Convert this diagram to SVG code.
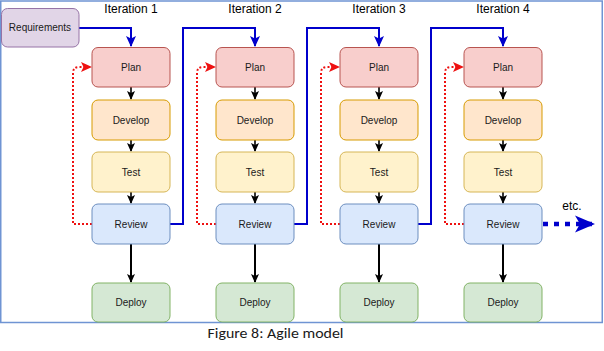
<svg xmlns="http://www.w3.org/2000/svg" width="604" height="351" viewBox="0 0 604 351">
  <style>
    .box { stroke-width: 1; }
    .plan { fill: #f8cecc; stroke: #b85450; }
    .dev { fill: #ffe6cc; stroke: #d79b00; }
    .test { fill: #fff2cc; stroke: #d6b656; }
    .rev { fill: #dae8fc; stroke: #6c8ebf; }
    .dep { fill: #d5e8d4; stroke: #82b366; }
    .req { fill: #e1d5e7; stroke: #9673a6; }
    .lbl { font-family: "Liberation Sans", Arial, sans-serif; font-size: 10px; fill: #1a1a1a; text-anchor: middle; }
    .iter { font-family: "Liberation Sans", Arial, sans-serif; font-size: 12px; fill: #000; text-anchor: middle; }
    .flow { fill: none; stroke: #000; stroke-width: 1.6; }
    .flow2 { fill: none; stroke: #000; stroke-width: 2; }
    .blue { fill: none; stroke: #0000cc; stroke-width: 2; }
    .loop { fill: none; stroke: #ee1111; stroke-width: 2; stroke-dasharray: 2 2; }
  </style>
  <defs>
    <marker id="ahBlack" markerWidth="10" markerHeight="10" refX="8" refY="5" orient="auto" markerUnits="userSpaceOnUse">
      <path d="M0,1 L9,5 L0,9 L2,5 Z" fill="#000"/>
    </marker>
    <marker id="ahBlue" markerWidth="12" markerHeight="12" refX="10" refY="6" orient="auto" markerUnits="userSpaceOnUse">
      <path d="M0,1 L11,6 L0,11 L2.5,6 Z" fill="#0000cc"/>
    </marker>
    <marker id="ahRed" markerWidth="12" markerHeight="12" refX="10" refY="6" orient="auto" markerUnits="userSpaceOnUse">
      <path d="M0,1 L11,6 L0,11 L2.5,6 Z" fill="#ee1111"/>
    </marker>
    <marker id="ahEtc" markerWidth="22" markerHeight="20" refX="20" refY="10" orient="auto" markerUnits="userSpaceOnUse">
      <path d="M0,1.5 L20,10 L0,18.5 L5,10 Z" fill="#0000cc"/>
    </marker>
  </defs>

  <!-- outer frame -->
  <rect x="0.75" y="1" width="601.5" height="321.5" fill="#fff" stroke="#6f94d3" stroke-width="1.5"/>

  <!-- iteration headings -->
  <text class="iter" x="131" y="13">Iteration 1</text>
  <text class="iter" x="255" y="13">Iteration 2</text>
  <text class="iter" x="379" y="13">Iteration 3</text>
  <text class="iter" x="503" y="13">Iteration 4</text>

  <g id="connectors">
    <!-- requirements into first plan -->
    <path class="blue" d="M79,28 H131 V46" marker-end="url(#ahBlue)"/>
    <!-- review to next plan -->
    <path class="blue" d="M170,224 H183 V28 H255 V46" marker-end="url(#ahBlue)"/>
    <path class="blue" d="M294,224 H307 V28 H379 V46" marker-end="url(#ahBlue)"/>
    <path class="blue" d="M418,224 H431 V28 H503 V46" marker-end="url(#ahBlue)"/>
    <!-- continuation -->
    <path d="M543,224 H595" fill="none" stroke="#0000cc" stroke-width="4.5" stroke-dasharray="5 6" marker-end="url(#ahEtc)"/>

    <!-- review feedback loops -->
    <path class="loop" d="M92,224 H73 V73 Q73,67 79,67 H91" marker-end="url(#ahRed)"/>
    <path class="loop" d="M216,224 H197 V73 Q197,67 203,67 H215" marker-end="url(#ahRed)"/>
    <path class="loop" d="M340,224 H321 V73 Q321,67 327,67 H339" marker-end="url(#ahRed)"/>
    <path class="loop" d="M464,224 H445 V73 Q445,67 451,67 H463" marker-end="url(#ahRed)"/>

    <!-- stage flow -->
    <path class="flow" d="M131,87 V99" marker-end="url(#ahBlack)"/>
    <path class="flow" d="M131,140 V151" marker-end="url(#ahBlack)"/>
    <path class="flow" d="M131,192 V203" marker-end="url(#ahBlack)"/>
    <path class="flow2" d="M131,244 V282" marker-end="url(#ahBlack)"/>
    <path class="flow" d="M255,87 V99" marker-end="url(#ahBlack)"/>
    <path class="flow" d="M255,140 V151" marker-end="url(#ahBlack)"/>
    <path class="flow" d="M255,192 V203" marker-end="url(#ahBlack)"/>
    <path class="flow2" d="M255,244 V282" marker-end="url(#ahBlack)"/>
    <path class="flow" d="M379,87 V99" marker-end="url(#ahBlack)"/>
    <path class="flow" d="M379,140 V151" marker-end="url(#ahBlack)"/>
    <path class="flow" d="M379,192 V203" marker-end="url(#ahBlack)"/>
    <path class="flow2" d="M379,244 V282" marker-end="url(#ahBlack)"/>
    <path class="flow" d="M503,87 V99" marker-end="url(#ahBlack)"/>
    <path class="flow" d="M503,140 V151" marker-end="url(#ahBlack)"/>
    <path class="flow" d="M503,192 V203" marker-end="url(#ahBlack)"/>
    <path class="flow2" d="M503,244 V282" marker-end="url(#ahBlack)"/>
  </g>

  <text class="iter" x="572" y="210">etc.</text>

  <g id="requirements">
    <rect class="box req" x="1.5" y="8.5" width="77.5" height="38.5" rx="6"/>
    <text class="lbl" x="40" y="31">Requirements</text>
  </g>

  <!-- iteration 1 -->
  <g id="plan1"><rect class="box plan" x="92" y="47.5" width="78" height="39.5" rx="6"/><text class="lbl" x="131" y="70.5">Plan</text></g>
  <g id="develop1"><rect class="box dev" x="92" y="100" width="78" height="40" rx="6"/><text class="lbl" x="131" y="123.5">Develop</text></g>
  <g id="test1"><rect class="box test" x="92" y="152" width="78" height="40" rx="6"/><text class="lbl" x="131" y="175.5">Test</text></g>
  <g id="review1"><rect class="box rev" x="92" y="204" width="78" height="40" rx="6"/><text class="lbl" x="131" y="227.5">Review</text></g>
  <g id="deploy1"><rect class="box dep" x="92" y="283" width="78" height="39" rx="6"/><text class="lbl" x="131" y="306">Deploy</text></g>

  <!-- iteration 2 -->
  <g id="plan2"><rect class="box plan" x="216" y="47.5" width="78" height="39.5" rx="6"/><text class="lbl" x="255" y="70.5">Plan</text></g>
  <g id="develop2"><rect class="box dev" x="216" y="100" width="78" height="40" rx="6"/><text class="lbl" x="255" y="123.5">Develop</text></g>
  <g id="test2"><rect class="box test" x="216" y="152" width="78" height="40" rx="6"/><text class="lbl" x="255" y="175.5">Test</text></g>
  <g id="review2"><rect class="box rev" x="216" y="204" width="78" height="40" rx="6"/><text class="lbl" x="255" y="227.5">Review</text></g>
  <g id="deploy2"><rect class="box dep" x="216" y="283" width="78" height="39" rx="6"/><text class="lbl" x="255" y="306">Deploy</text></g>

  <!-- iteration 3 -->
  <g id="plan3"><rect class="box plan" x="340" y="47.5" width="78" height="39.5" rx="6"/><text class="lbl" x="379" y="70.5">Plan</text></g>
  <g id="develop3"><rect class="box dev" x="340" y="100" width="78" height="40" rx="6"/><text class="lbl" x="379" y="123.5">Develop</text></g>
  <g id="test3"><rect class="box test" x="340" y="152" width="78" height="40" rx="6"/><text class="lbl" x="379" y="175.5">Test</text></g>
  <g id="review3"><rect class="box rev" x="340" y="204" width="78" height="40" rx="6"/><text class="lbl" x="379" y="227.5">Review</text></g>
  <g id="deploy3"><rect class="box dep" x="340" y="283" width="78" height="39" rx="6"/><text class="lbl" x="379" y="306">Deploy</text></g>

  <!-- iteration 4 -->
  <g id="plan4"><rect class="box plan" x="464" y="47.5" width="78" height="39.5" rx="6"/><text class="lbl" x="503" y="70.5">Plan</text></g>
  <g id="develop4"><rect class="box dev" x="464" y="100" width="78" height="40" rx="6"/><text class="lbl" x="503" y="123.5">Develop</text></g>
  <g id="test4"><rect class="box test" x="464" y="152" width="78" height="40" rx="6"/><text class="lbl" x="503" y="175.5">Test</text></g>
  <g id="review4"><rect class="box rev" x="464" y="204" width="78" height="40" rx="6"/><text class="lbl" x="503" y="227.5">Review</text></g>
  <g id="deploy4"><rect class="box dep" x="464" y="283" width="78" height="39" rx="6"/><text class="lbl" x="503" y="306">Deploy</text></g>

  <!-- caption -->
  <text x="275.5" y="338" font-family="Carlito, 'Liberation Sans', Arial, sans-serif" font-size="14" fill="#1a1a1a" text-anchor="middle" textLength="136" lengthAdjust="spacingAndGlyphs">Figure 8: Agile model</text>
</svg>
